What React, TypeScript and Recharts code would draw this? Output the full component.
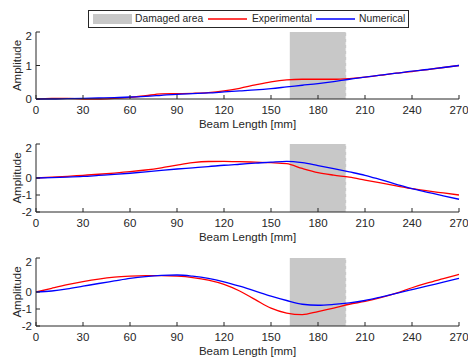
import React from 'react';
import { LineChart, Line, XAxis, YAxis, ReferenceArea, ReferenceLine } from 'recharts';

// beam positions (mm) where the mode shapes were sampled
const beamLength = [0, 10, 20, 30, 40, 50, 60, 70, 80, 90, 100, 110, 120, 130, 140, 150, 160, 170, 180, 190, 200, 210, 220, 230, 240, 250, 260, 270];

const mode1Experimental = [0, 0.02, 0.02, 0.0, 0.0, 0.02, 0.05, 0.1, 0.15, 0.16, 0.17, 0.19, 0.24, 0.32, 0.42, 0.51, 0.57, 0.59, 0.59, 0.59, 0.61, 0.65, 0.71, 0.77, 0.82, 0.88, 0.94, 1.0];
const mode1Numerical = [0, 0.0, 0.01, 0.02, 0.03, 0.04, 0.06, 0.08, 0.11, 0.14, 0.16, 0.18, 0.21, 0.24, 0.27, 0.31, 0.36, 0.41, 0.46, 0.52, 0.59, 0.65, 0.71, 0.77, 0.83, 0.88, 0.94, 1.0];

const mode2Experimental = [0, 0.05, 0.1, 0.16, 0.22, 0.29, 0.37, 0.47, 0.6, 0.76, 0.9, 0.97, 0.98, 0.96, 0.93, 0.9, 0.84, 0.56, 0.32, 0.17, 0.05, -0.12, -0.29, -0.46, -0.63, -0.76, -0.88, -1.0];
const mode2Numerical = [0, 0.02, 0.05, 0.09, 0.15, 0.21, 0.28, 0.36, 0.45, 0.53, 0.6, 0.67, 0.75, 0.81, 0.87, 0.93, 0.98, 0.9, 0.73, 0.55, 0.36, 0.16, -0.1, -0.37, -0.63, -0.84, -1.05, -1.25];

const mode3Experimental = [0, 0.22, 0.43, 0.61, 0.76, 0.87, 0.93, 0.96, 0.96, 0.93, 0.85, 0.7, 0.45, 0.06, -0.45, -0.95, -1.24, -1.33, -1.15, -0.95, -0.72, -0.55, -0.33, -0.06, 0.25, 0.53, 0.78, 1.03];
const mode3Numerical = [0, 0.06, 0.18, 0.34, 0.5, 0.65, 0.8, 0.91, 0.98, 1.0, 0.93, 0.8, 0.6, 0.34, 0.05, -0.24, -0.5, -0.72, -0.78, -0.73, -0.64, -0.5, -0.3, -0.08, 0.14, 0.36, 0.58, 0.8];

const xTicks = [0, 30, 60, 90, 120, 150, 180, 210, 240, 270];
const yTicksPositive = [0, 1, 2];
const yTicksFull = [-2, -1, 0, 1, 2];

const damageStart = 162;
const damageEnd = 198;

const INK = '#262626';
const FONT = '"Liberation Sans", Arial, Helvetica, sans-serif';
const FS = 11.5;
const LEGEND_FS = 10.3;

const buildRows = (exp: number[], num: number[]) =>
  beamLength.map((x, i) => ({ x, experimental: exp[i], numerical: num[i] }));

interface PanelProps {
  top: number;
  plotHeight: number;
  exp: number[];
  num: number[];
  yDomain: [number, number];
  yTicks: number[];
}

const ModePanel: React.FC<PanelProps> = ({ top, plotHeight, exp, num, yDomain, yTicks }) => {
  const data = buildRows(exp, num);
  const tickStyle = { fill: INK, fontSize: FS, fontFamily: FONT };
  return (
    <div style={{ position: 'absolute', left: 0, top }}>
      <LineChart width={468} height={2 + plotHeight + 34} data={data} margin={{ top: 2, right: 9, bottom: 0, left: 0 }} style={{ fontFamily: FONT }}>
        <ReferenceArea xAxisId="b" yAxisId="l" x1={damageStart} x2={damageEnd} fill="#c8c8c8" fillOpacity={1} stroke="none" />
        <ReferenceLine xAxisId="b" yAxisId="l" x={damageEnd} stroke="#ffffff" strokeDasharray="3 3" />
        <XAxis
          xAxisId="b"
          dataKey="x"
          type="number"
          domain={[0, 270]}
          ticks={xTicks}
          tickSize={-4}
          tickMargin={11}
          height={34}
          stroke={INK}
          tick={tickStyle}
          label={{ value: 'Beam Length [mm]', position: 'insideBottom', offset: 5, fill: INK, fontSize: FS, fontFamily: FONT }}
        />
        <XAxis xAxisId="t" orientation="top" type="number" domain={[0, 270]} ticks={xTicks} tickSize={-4} height={0} stroke={INK} tick={false} />
        <YAxis
          yAxisId="l"
          type="number"
          domain={yDomain}
          ticks={yTicks}
          tickSize={-4}
          tickMargin={8}
          width={36}
          stroke={INK}
          tick={tickStyle}
          label={{ value: 'Amplitude', angle: -90, position: 'center', dx: -1, fill: INK, fontSize: FS, fontFamily: FONT }}
        />
        <YAxis yAxisId="r" orientation="right" type="number" domain={yDomain} ticks={yTicks} tickSize={-4} width={0} stroke={INK} tick={false} />
        <Line xAxisId="b" yAxisId="l" type="monotone" dataKey="experimental" stroke="#ff0000" strokeWidth={1.3} dot={false} isAnimationActive={false} />
        <Line xAxisId="b" yAxisId="l" type="monotone" dataKey="numerical" stroke="#0000ff" strokeWidth={1.3} dot={false} isAnimationActive={false} />
      </LineChart>
    </div>
  );
};

const LegendBox = () => {
  const text: React.CSSProperties = { position: 'absolute', top: 1, fontSize: LEGEND_FS, lineHeight: '14px', color: INK, whiteSpace: 'nowrap' };
  return (
    <div style={{ position: 'absolute', left: 88, top: 10, width: 321, height: 18, boxSizing: 'border-box', border: `1px solid ${INK}`, background: '#fff', fontFamily: FONT }}>
      <div style={{ position: 'absolute', left: 4, top: 3, width: 39, height: 10, background: '#c8c8c8' }} />
      <span style={{ ...text, left: 46 }}>Damaged area</span>
      <svg style={{ position: 'absolute', left: 119, top: 0 }} width={40} height={16}>
        <line x1={0} y1={8} x2={39} y2={8} stroke="#ff0000" strokeWidth={1.3} />
      </svg>
      <span style={{ ...text, left: 163 }}>Experimental</span>
      <svg style={{ position: 'absolute', left: 227, top: 0 }} width={40} height={16}>
        <line x1={0} y1={8} x2={39} y2={8} stroke="#0000ff" strokeWidth={1.3} />
      </svg>
      <span style={{ ...text, left: 270 }}>Numerical</span>
    </div>
  );
};

export default function App() {
  return (
    <div style={{ position: 'absolute', left: 0, top: 0, width: 468, height: 364, background: '#fff', fontFamily: FONT }}>
      <ModePanel top={30} plotHeight={67} exp={mode1Experimental} num={mode1Numerical} yDomain={[0, 2]} yTicks={yTicksPositive} />
      <ModePanel top={142} plotHeight={68} exp={mode2Experimental} num={mode2Numerical} yDomain={[-2, 2]} yTicks={yTicksFull} />
      <ModePanel top={256} plotHeight={68} exp={mode3Experimental} num={mode3Numerical} yDomain={[-2, 2]} yTicks={yTicksFull} />
      <LegendBox />
    </div>
  );
}
